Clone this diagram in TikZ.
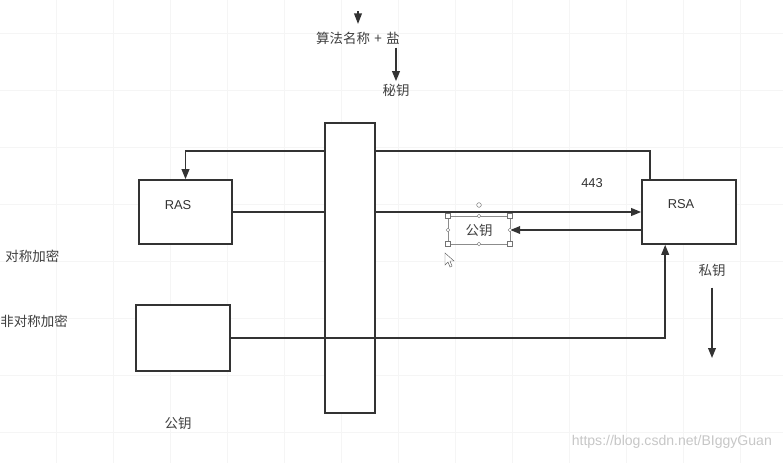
\documentclass[tikz,border=0pt]{standalone}
\usepackage{fontspec}
\setmainfont{Liberation Sans}
\newfontfamily\cjk{Noto Sans CJK SC}
\usetikzlibrary{arrows.meta,positioning}

\tikzset{
  box/.style={draw=black!80, line width=1.4pt, fill=white, inner sep=0pt},
  link/.style={draw=black!80, line width=1.4pt},
  tip/.style={-{Triangle[length=8.5pt,width=6.5pt]}},
  lbl/.style={font=\cjk\fontsize{11.5}{13}\selectfont, text=black!75, inner sep=1pt},
  latin/.style={font=\fontsize{11}{13}\selectfont, text=black!80, inner sep=1pt},
  handle/.style={draw=black!55, fill=white, line width=0.4pt},
  gridline/.style={black!4, line width=0.4pt}
}

\begin{document}
\begin{tikzpicture}[x=0.03cm, y=-0.03cm]

\useasboundingbox (0,0) rectangle (783,463);
\fill[white] (0,0) rectangle (783,463);

% faint canvas grid
\foreach \gx in {56,113,...,783} {
    \draw[gridline] (\gx,0) -- (\gx,463);
}
\foreach \gy in {33,90,...,463} {
    \draw[gridline] (0,\gy) -- (783,\gy);
}

% =========================
% TOP: algorithm name + salt
% =========================
\draw[link, -{Triangle[length=9pt,width=6.5pt]}] (358,11) -- (358,24);
\node[lbl] (algo) at (358,38) {算法名称\,\,+\,\,盐};
\node[lbl] (secret) at (396,90) {秘钥};
\draw[link, tip] (secret.north |- algo.south) ++(0,2) -- ([yshift=1pt]secret.north);

% =========================
% BOXES
% =========================
\node[box, minimum width=2.79cm, minimum height=1.92cm] (ras) at (185.5,212) {};
\node[box, minimum width=2.82cm, minimum height=1.92cm] (rsa) at (689,212) {};
\node[box, minimum width=2.82cm, minimum height=1.98cm] (plain) at (183,338) {};

\node[latin] (rasL) at (178,205) {RAS};
\node[latin] (rsaL) at (681,204) {RSA};
\node[latin] (port) at (592,183) {443};

% connectors hidden behind the channel
\draw[link, tip] ([xshift=0.27cm]rsa.north west) -- ++(0,-28) -| (ras.north);
\draw[link, tip] (ras.east) -- (rsa.west);

% channel
\node[box, minimum width=1.5cm, minimum height=8.7cm] (hub) at (350,268) {};

% crossing connector
\draw[link, tip] (plain.east) -| ([xshift=0.72cm]rsa.south west);

% =========================
% PUBLIC KEY (selected)
% =========================
\node[draw=black!45, line width=0.4pt, minimum width=1.86cm, minimum height=0.84cm,
      lbl] (pub) at (479,230) {公钥};
\draw[link, tip] (pub.east -| rsa.west) -- (pub.east);

\foreach \hx/\hy in {448/216, 510/216, 448/244, 510/244} {
    \draw[handle] (\hx-2.5,\hy-2.5) rectangle (\hx+2.5,\hy+2.5);
}
\foreach \hx/\hy in {479/216, 479/244, 448/230, 510/230} {
    \draw[handle] (\hx,\hy) circle (1.6pt);
}
\draw[handle] (479,205) circle (2pt);

% mouse pointer
\draw[black!60, fill=white, line width=0.4pt]
(445,253) -- (445,265) -- (448,262) -- (450,267) -- (452,266) -- (450,261) -- (454,261) -- cycle;

% =========================
% PRIVATE KEY
% =========================
\node[lbl] (priv) at (712,270) {私钥};
\coordinate (privEnd) at (712,358);
\draw[link, tip, shorten <=0.3cm] (priv.south) -- (privEnd);

% =========================
% SIDE LABELS
% =========================
\node[lbl, anchor=west] (sym) at (4,256) {对称加密};
\node[lbl, anchor=west] (asym) at (-1,321) {非对称加密};
\node[lbl] (pubL) at (178,423) {公钥};

% watermark
\node[font=\fontsize{12}{14}\selectfont, text=black!22, anchor=east] (mark) at (776,442)
{https://blog.csdn.net/BIggyGuan};

\end{tikzpicture}
\end{document}
